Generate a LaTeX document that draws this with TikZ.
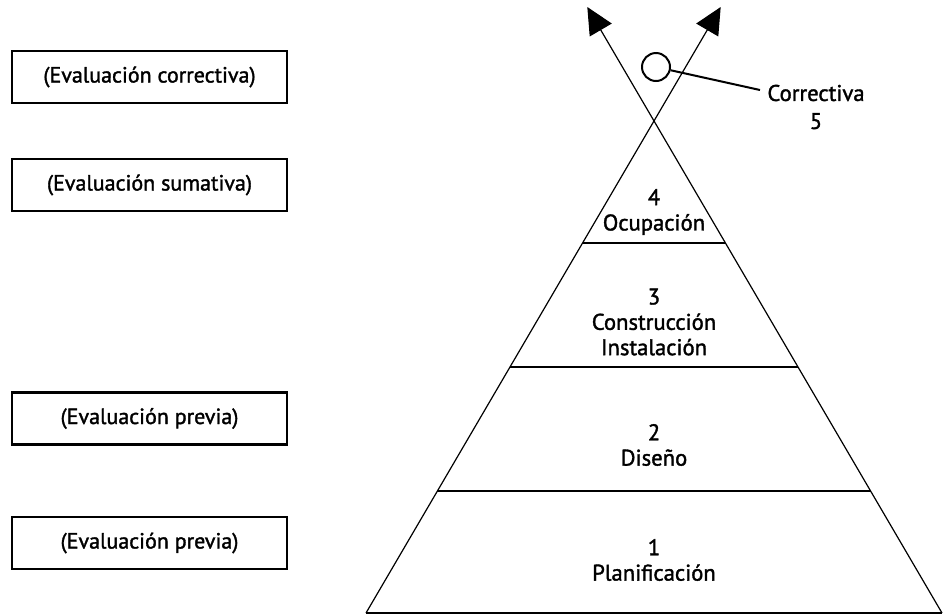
\documentclass[tikz,border=0pt]{standalone}
\usepackage{fontspec}
\setmainfont{PT Sans}[FakeBold=1.5]
\usetikzlibrary{arrows.meta}
\begin{document}
\begin{tikzpicture}[x=0.75pt,y=-0.75pt,
  evalbox/.style={draw,line width=1.9pt,minimum width=206pt,minimum height=39pt,
    inner sep=0pt,font=\fontsize{16.5}{18}\selectfont},
  tierlabel/.style={align=center,inner sep=0pt,font=\fontsize{17}{19}\selectfont},
  edge/.style={line width=0.9pt},
  rise/.style={edge,-{Triangle[length=20pt,width=19pt]}},
  ring/.style={draw,circle,line width=1.5pt,minimum size=21pt,inner sep=0pt}]
\useasboundingbox (0,0) rectangle (946,615);

% evaluation boxes on the left
\node[evalbox] (b1) at (149.5,77)  {(Evaluación correctiva)};
\node[evalbox] (b2) at (149.5,185) {(Evaluación sumativa)};
\node[evalbox] (b3) at (149.5,418.5) {(Evaluación previa)};
\node[evalbox] (b4) at (149.5,543) {(Evaluación previa)};

% pyramid outline: two sides crossing at the apex and ending in arrows
\coordinate (bl) at (366,613);
\coordinate (br) at (942,613);
\coordinate (tipR) at (720.7,7);
\coordinate (tipL) at (587.3,7);
\draw[rise] (bl) -- (tipR);
\draw[rise] (br) -- (tipL);
\draw[edge] (bl) -- (br);

% tier boundaries
\coordinate (l4) at (582.6,243); \coordinate (r4) at (725.4,243);
\coordinate (l3) at (510,367);   \coordinate (r3) at (798,367);
\coordinate (l2) at (437.4,491); \coordinate (r2) at (870.6,491);
\draw[edge] (l4) -- (r4);
\draw[edge] (l3) -- (r3);
\draw[edge] (l2) -- (r2);

% tier labels
\node[tierlabel] (t4) at (654,212) {4\\Ocupación};
\node[tierlabel] (t3) at (654,322) {3\\Construcción\\Instalación};
\node[tierlabel] (t2) at (654,445) {2\\Diseño};
\node[tierlabel] (t1) at (654,560) {1\\Planificación};

% corrective stage marker
\node[ring] (circ) at (656,67) {};
\coordinate (lead) at (760,90);
\draw[line width=1.5pt] (circ) -- (lead);
\node[tierlabel,font=\fontsize{17}{21}\selectfont] (corr) at (816,107) {Correctiva\\5};
\end{tikzpicture}
\end{document}
